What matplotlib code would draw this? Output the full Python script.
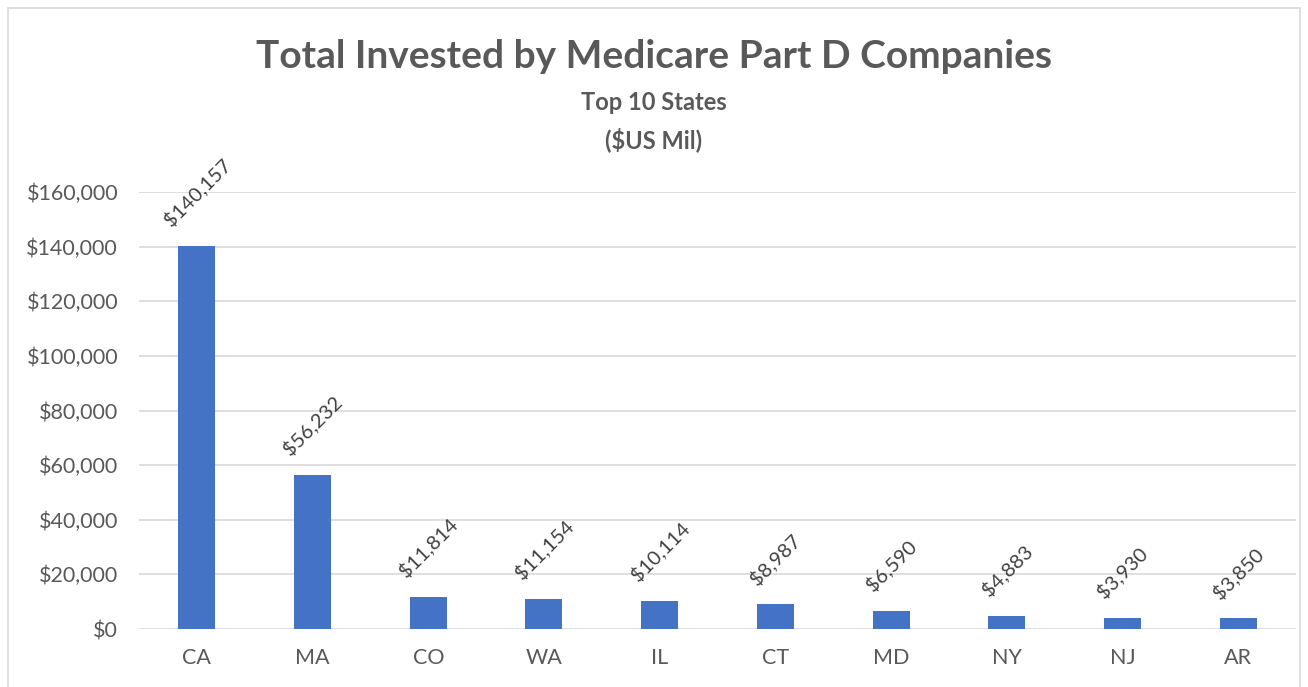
import matplotlib.pyplot as plt
from matplotlib.ticker import FuncFormatter
from matplotlib.patches import Rectangle

states = ["CA", "MA", "CO", "WA", "IL", "CT", "MD", "NY", "NJ", "AR"]
invested = [140157, 56232, 11814, 11154, 10114, 8987, 6590, 4883, 3930, 3850]
yticks = [0, 20000, 40000, 60000, 80000, 100000, 120000, 140000, 160000]

plt.rcParams['font.family'] = ['Lato', 'DejaVu Sans']
grey = "#595959"

fig = plt.figure(figsize=(13.08, 6.87), dpi=100)
ax = fig.add_axes([139 / 1308, 1 - 629 / 687, (1296 - 139) / 1308, (629 - 192) / 687])

x = range(len(states))
ax.bar(x, invested, width=0.32, color="#4472C4", zorder=3)

for i, v in zip(x, invested):
    ax.annotate(f"${v:,}", (i, v), xytext=(0, 12), textcoords="offset points",
                ha="center", va="bottom", rotation=45, fontsize=14.5, color="#404040")

ax.set_xlim(-0.5, len(states) - 0.5)
ax.set_ylim(0, 160000)
ax.set_yticks(yticks)
ax.yaxis.set_major_formatter(FuncFormatter(lambda v, p: f"${v:,.0f}"))
ax.set_xticks(list(x))
ax.set_xticklabels(states)
ax.tick_params(axis="both", length=0, labelsize=15.5, labelcolor=grey)
ax.tick_params(axis="x", pad=14)
ax.tick_params(axis="y", pad=15)
ax.grid(axis="y", color="#D9D9D9", linewidth=1.2, zorder=0)
for s in ax.spines.values():
    s.set_visible(False)

fig.text(0.5, 1 - 57 / 687, "Total Invested by Medicare Part D Companies", ha="center", va="center",
         fontsize=28, fontweight="bold", color=grey)
fig.text(0.5, 1 - 102 / 687, "Top 10 States", ha="center", va="center",
         fontsize=17, fontweight="bold", color=grey)
fig.text(0.5, 1 - 140 / 687, "($US Mil)", ha="center", va="center",
         fontsize=17, fontweight="bold", color=grey)

# chart border
fig.patches.append(Rectangle((8 / 1308, -0.01), 1292 / 1308, 1 - 8 / 687 + 0.01,
                             transform=fig.transFigure, fill=False, edgecolor="#D9D9D9", linewidth=1.2))

fig.savefig("out.png", dpi=100, facecolor="white")
